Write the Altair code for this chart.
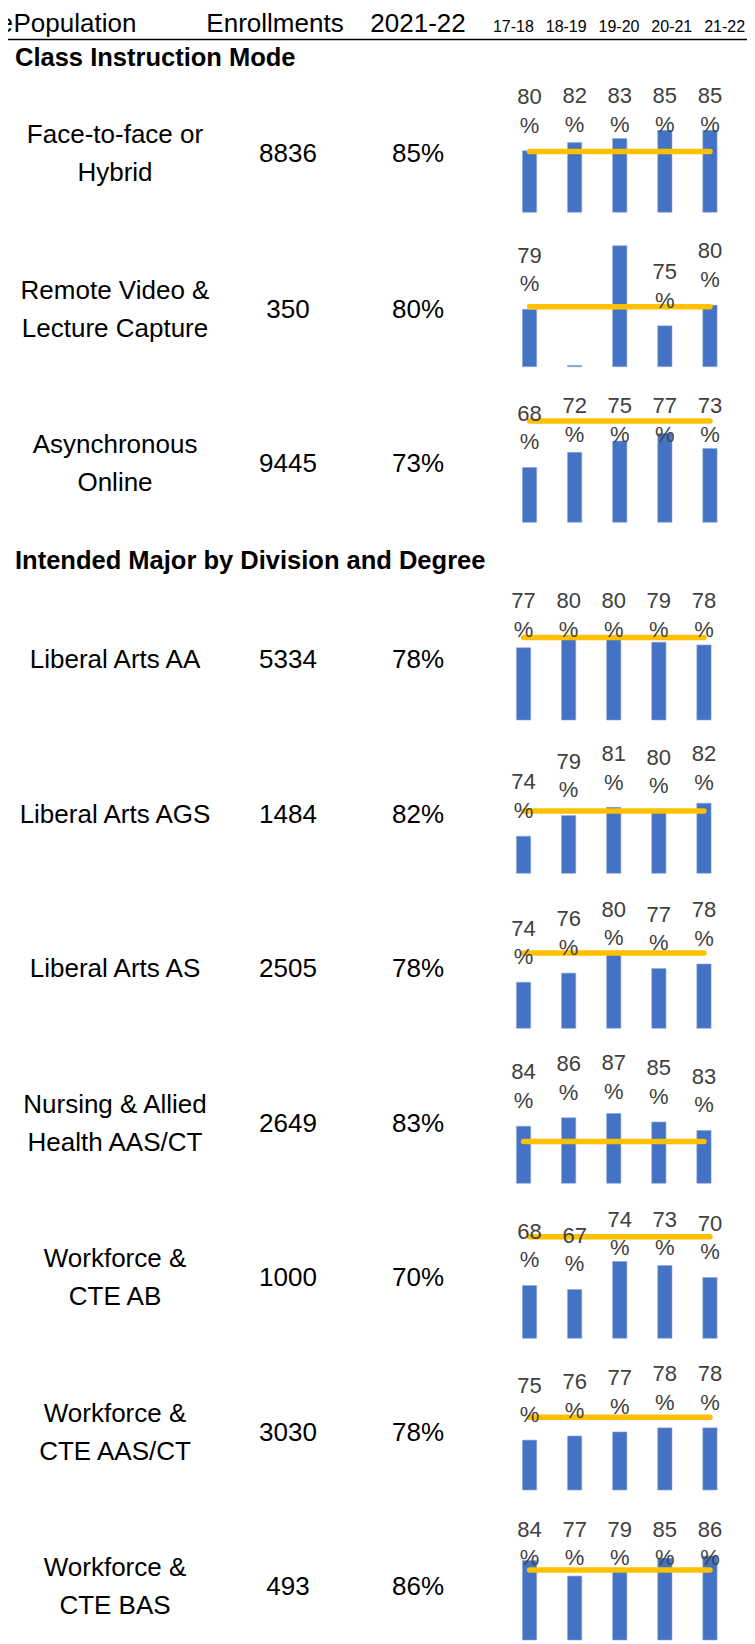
import altair as alt
import pandas as pd

# ---------------- data ----------------
YEARS = ["17-18", "18-19", "19-20", "20-21", "21-22"]
HEADER = ["e", "Population", "Enrollments", "2021-22"]
SECTIONS = ["Class Instruction Mode", "Intended Major by Division and Degree"]
CATEGORIES = [
    ["Face-to-face or", "Hybrid"],
    ["Remote Video &", "Lecture Capture"],
    ["Asynchronous", "Online"],
    ["Liberal Arts AA"],
    ["Liberal Arts AGS"],
    ["Liberal Arts AS"],
    ["Nursing & Allied", "Health AAS/CT"],
    ["Workforce &", "CTE AB"],
    ["Workforce &", "CTE AAS/CT"],
    ["Workforce &", "CTE BAS"],
]
ENROLLMENTS = [8836, 350, 9445, 5334, 1484, 2505, 2649, 1000, 3030, 493]
RATE_2021_22 = [85, 80, 73, 78, 82, 78, 83, 70, 78, 86]
TREND = [
    [80, 82, 83, 85, 85],
    [79, 65.4, 94.4, 75, 80],
    [68, 72, 75, 77, 73],
    [77, 80, 80, 79, 78],
    [74, 79, 81, 80, 82],
    [74, 76, 80, 77, 78],
    [84, 86, 87, 85, 83],
    [68, 67, 74, 73, 70],
    [75, 76, 77, 78, 78],
    [84, 77, 79, 85, 86],
]
UNLABELLED = {(1, "18-19"), (1, "19-20")}
BENCHMARK = [79.8, 79.6, 80.3, 80.7, 80.1, 80.4, 80.4, 80.2, 80.6, 79.7]

# ---------------- layout (reference pixel coords) ----------------
OFF = 8
W, H = 739, 1636
TEXT_BASELINE = [162, 317.5, 472, 668, 822.5, 977, 1131.5, 1286, 1440.5, 1595]
BAR_BOTTOM = [212.3, 366.7, 522.3, 720, 873.3, 1028.3, 1183.3, 1338.3, 1490, 1640]
PX_PER_PT = [4.10, 4.13, 3.78, 2.8, 4.125, 4.56, 4.23, 4.0, 4.09, 2.22]
AXIS_MIN = [65.0, 65.1, 53.5, 51.2, 65.0, 63.9, 70.5, 54.8, 62.8, 48.2]
LABEL_CEIL = [109, 109, 109, 111.7, 112, 111.6, 113.3, 111.6, 111, 103.3]
X_SHIFT = [0, 0, 0, -6, -6, -6, -6, 0, 0, 0]
SPARK_X0, SPARK_W = 507, 225.5
LABEL_COL_X, NUM_COL_X, PCT_COL_X = 115, 288, 418
HEADER_BASELINE, HEADER_RULE = 31.5, 39.5
SECTION_BASELINE = [66, 569]
YEAR_HDR_X0, YEAR_HDR_W = 487, 264

FONT = "Liberation Sans, Arial, sans-serif"
BLUE, YELLOW, LABEL_GREY = "#4472C4", "#FFC000", "#404040"

one = pd.DataFrame({"a": [0]})
layers = []

# header
hdr_specs = [(HEADER[0], 13 - OFF, "right"), (HEADER[1], 13.5 - OFF, "left"),
             (HEADER[2], 275 - OFF, "center"), (HEADER[3], 418 - OFF, "center")]
for txt, x, al in hdr_specs:
    layers.append(
        alt.Chart(one).mark_text(text=txt, font=FONT, fontSize=26, align=al,
                                 baseline="alphabetic", color="black")
        .encode(x=alt.value(x), y=alt.value(HEADER_BASELINE - OFF))
    )
layers.append(
    alt.Chart(pd.DataFrame({"year": YEARS})).mark_text(
        font=FONT, fontSize=16, baseline="alphabetic", color="black")
    .encode(
        x=alt.X("year:N", sort=YEARS, axis=None,
                scale=alt.Scale(domain=YEARS, range=[YEAR_HDR_X0 - OFF, YEAR_HDR_X0 - OFF + YEAR_HDR_W],
                                paddingInner=0, paddingOuter=0)),
        y=alt.value(HEADER_BASELINE - OFF),
        text="year:N",
    )
)
layers.append(
    alt.Chart(one).mark_rule(color="black", strokeWidth=1.5)
    .encode(x=alt.value(0), x2=alt.value(W), y=alt.value(HEADER_RULE - OFF))
)
for s, b in zip(SECTIONS, SECTION_BASELINE):
    layers.append(
        alt.Chart(one).mark_text(text=s, font=FONT, fontSize=25.5, fontWeight="bold",
                                 align="left", baseline="alphabetic", color="black")
        .encode(x=alt.value(15 - OFF), y=alt.value(b - OFF))
    )

# table text
tbl = pd.DataFrame({
    "lines": CATEGORIES,
    "n": ENROLLMENTS,
    "pct": [f"{r}%" for r in RATE_2021_22],
    "yb": [b - OFF for b in TEXT_BASELINE],
    "y1": [b - OFF - 19 * (len(c) - 1) for b, c in zip(TEXT_BASELINE, CATEGORIES)],
})
tchart = alt.Chart(tbl)
layers.append(tchart.mark_text(font=FONT, fontSize=26, lineHeight=38, align="center",
                               baseline="alphabetic", color="black")
              .encode(x=alt.value(LABEL_COL_X - OFF), y=alt.Y("y1:Q", scale=None), text="lines:N"))
layers.append(tchart.mark_text(font=FONT, fontSize=26, align="center",
                               baseline="alphabetic", color="black")
              .encode(x=alt.value(NUM_COL_X - OFF), y=alt.Y("yb:Q", scale=None),
                      text=alt.Text("n:Q", format="d")))
layers.append(tchart.mark_text(font=FONT, fontSize=26, align="center",
                               baseline="alphabetic", color="black")
              .encode(x=alt.value(PCT_COL_X - OFF), y=alt.Y("yb:Q", scale=None), text="pct:N"))

# sparklines
SPAN = 100
for i in range(len(TREND)):
    B = BAR_BOTTOM[i] - OFF
    ppu = PX_PER_PT[i]
    lo = AXIS_MIN[i]
    hi = lo + SPAN / ppu
    cap = lo + (LABEL_CEIL[i] - 46.7) / ppu
    x0 = SPARK_X0 - OFF + X_SHIFT[i]
    df = pd.DataFrame({
        "year": YEARS,
        "v": TREND[i],
        "bench": [BENCHMARK[i]] * len(YEARS),
        "lab": ["" if (i, y) in UNLABELLED else f"{round(v)}" for y, v in zip(YEARS, TREND[i])],
    })
    xs = alt.Scale(domain=YEARS, range=[x0, x0 + SPARK_W], paddingInner=0.683, paddingOuter=0.3415)
    ys = alt.Scale(domain=[lo, hi], range=[B, B - SPAN], zero=False, nice=False)
    X = alt.X("year:N", sort=YEARS, scale=xs, axis=None)
    base = alt.Chart(df)
    bars = base.mark_bar(color=BLUE, stroke="#8FAADC", strokeWidth=0.6).encode(
        x=X, y=alt.Y("v:Q", scale=ys, axis=None), y2=alt.datum(lo))
    line = base.mark_line(color=YELLOW, strokeWidth=5.5, strokeCap="round").encode(
        x=X, y=alt.Y("bench:Q", scale=ys, axis=None))
    lab = base.transform_filter("datum.lab != ''").transform_calculate(lv=f"min(datum.v, {cap})")
    digits = lab.mark_text(font=FONT, fontSize=22, dy=-46.7, baseline="alphabetic",
                           color=LABEL_GREY).encode(
        x=X, y=alt.Y("lv:Q", scale=ys, axis=None), text="lab:N")
    pcts = lab.mark_text(font=FONT, fontSize=22, dy=-18.2, baseline="alphabetic",
                         color=LABEL_GREY, text="%").encode(
        x=X, y=alt.Y("lv:Q", scale=ys, axis=None))
    layers.append(alt.layer(bars, line, digits, pcts))

chart = alt.layer(*layers).resolve_scale(x="independent", y="independent").properties(
    width=W, height=H, padding=0, autosize=alt.AutoSizeParams(type="none"),
    background="white",
).configure_view(stroke=None)

chart.save("out.html", embed_options={"renderer": "svg", "actions": False})
